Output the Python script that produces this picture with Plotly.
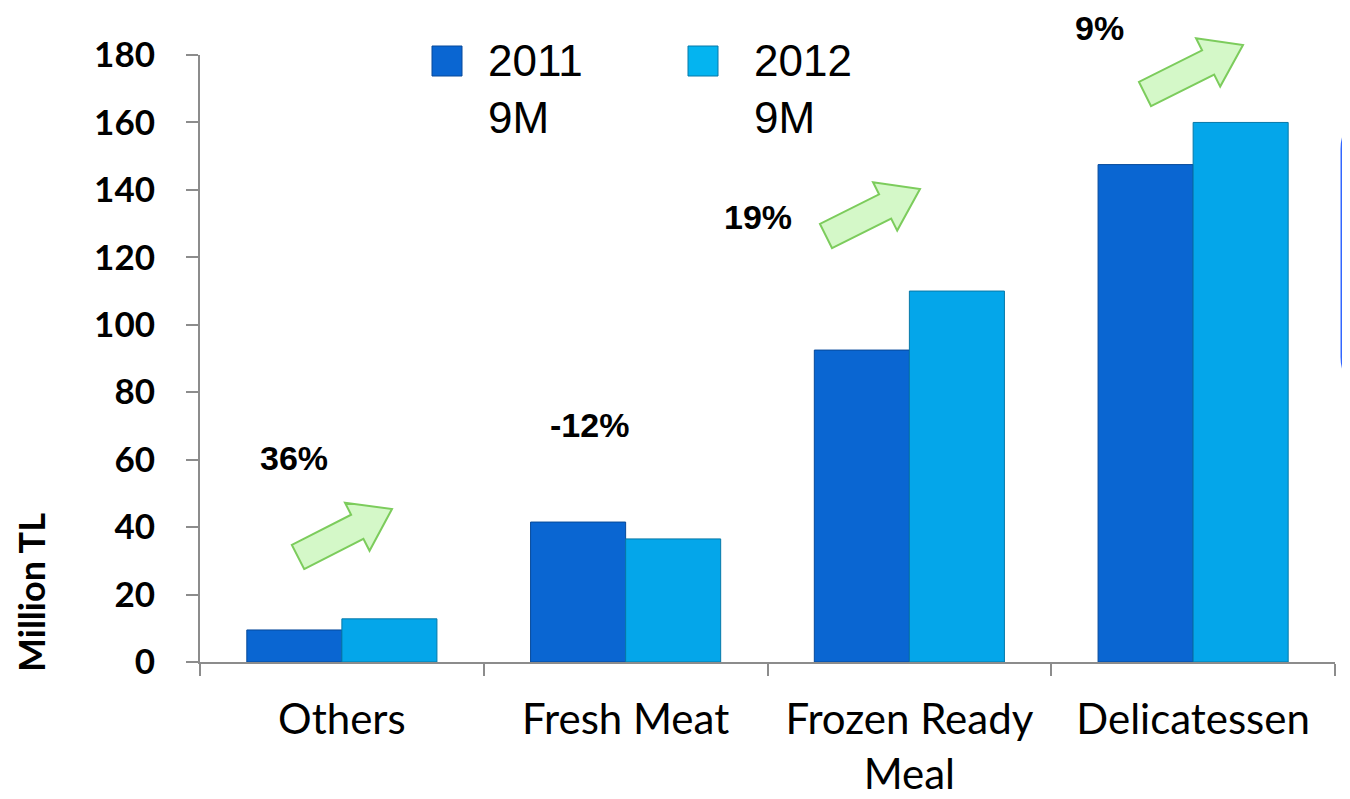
import plotly.graph_objects as go

# data
categories = ["Others", "Fresh Meat", "Frozen Ready<br>Meal", "Delicatessen"]
sales_2011 = [9.5, 41.5, 92.5, 147.5]
sales_2012 = [12.8, 36.5, 110.0, 160.0]
growth_labels = ["36%", "-12%", "19%", "9%"]

OFF = 8  # page body margin
W, H = 1350, 799
ML, MT = 200 - OFF, 55 - OFF
MR = W - (1335 - OFF)
MB = H - (662 - OFF)
PW, PH = W - ML - MR, H - MT - MB


def px(x, y):
    """screen pixel position -> paper coords"""
    return (x - OFF - ML) / PW, (H - MB - (y - OFF)) / PH


def arrow_path(tail, tip, shaft=27, head_w=54, head_l=39):
    dx, dy = tip[0] - tail[0], tip[1] - tail[1]
    n = (dx * dx + dy * dy) ** 0.5
    ux, uy = dx / n, dy / n
    vx, vy = -uy, ux
    bx, by = tip[0] - ux * head_l, tip[1] - uy * head_l
    pts = [
        (tail[0] + vx * shaft / 2, tail[1] + vy * shaft / 2),
        (bx + vx * shaft / 2, by + vy * shaft / 2),
        (bx + vx * head_w / 2, by + vy * head_w / 2),
        tip,
        (bx - vx * head_w / 2, by - vy * head_w / 2),
        (bx - vx * shaft / 2, by - vy * shaft / 2),
        (tail[0] - vx * shaft / 2, tail[1] - vy * shaft / 2),
    ]
    pp = [px(*p) for p in pts]
    return "M " + " L ".join(f"{a:.5f},{b:.5f}" for a, b in pp) + " Z"


fig = go.Figure()

fig.add_trace(go.Bar(
    x=categories, y=sales_2011, name="2011 9M",
    marker=dict(color="#0a66d2", line=dict(color="#06499a", width=1)),
    showlegend=False
))
fig.add_trace(go.Bar(
    x=categories, y=sales_2012, name="2012 9M",
    marker=dict(color="#04a6ea", line=dict(color="#0678a8", width=1)),
    showlegend=False
))

shapes = []
# green growth arrows (screen positions of tail centre / tip)
arrows = [((298, 557), (392, 509)), ((826, 236), (920, 189)), ((1145, 94), (1243, 45))]
for tail, tip in arrows:
    shapes.append(dict(
        type="path", xref="paper", yref="paper", path=arrow_path(tail, tip),
        fillcolor="#d4f8c8", line=dict(color="#7ccc5c", width=2), layer="above"
    ))

# legend squares
for x0, fill, edge in ((432, "#0a66d2", "#06499a"), (688, "#04b4f0", "#0678a8")):
    a, b = px(x0, 46)
    c, d = px(x0 + 30, 76)
    shapes.append(dict(type="rect", xref="paper", yref="paper", x0=a, y0=d, x1=c, y1=b,
                       fillcolor=fill, line=dict(color=edge, width=1)))

# blue rounded box clipped at the right edge
r = 28
pts = [(1370, 121), (1342 + r, 121), (1342, 121 + r), (1342, 385 - r), (1342 + r, 385), (1370, 385)]
p = [px(*q) for q in pts]
corner_t = px(1342, 121)
corner_b = px(1342, 385)
path = (f"M {p[0][0]:.5f},{p[0][1]:.5f} L {p[1][0]:.5f},{p[1][1]:.5f} "
        f"Q {corner_t[0]:.5f},{corner_t[1]:.5f} {p[2][0]:.5f},{p[2][1]:.5f} "
        f"L {p[3][0]:.5f},{p[3][1]:.5f} "
        f"Q {corner_b[0]:.5f},{corner_b[1]:.5f} {p[4][0]:.5f},{p[4][1]:.5f} "
        f"L {p[5][0]:.5f},{p[5][1]:.5f}")
shapes.append(dict(type="path", xref="paper", yref="paper", path=path,
                   line=dict(color="#3366ff", width=3)))

annotations = []
# growth labels, screen centres
label_pos = [(294, 458), (589, 425), (758, 217), (1099, 28)]
for txt, (x, y) in zip(growth_labels, label_pos):
    a, b = px(x, y)
    annotations.append(dict(x=a, y=b, xref="paper", yref="paper", text=f"<b>{txt}</b>",
                            xanchor="center", yanchor="middle", showarrow=False,
                            font=dict(family="Liberation Sans", size=34, color="black")))

# legend text
for txt, x0 in (("2011<br>9M", 486), ("2012<br>9M", 752)):
    a, b = px(x0, 34)
    annotations.append(dict(x=a, y=b, xref="paper", yref="paper", text=txt, align="left",
                            xanchor="left", yanchor="top", showarrow=False,
                            font=dict(family="Liberation Sans", size=44, color="black")))

# y title
a, b = px(31, 592)
annotations.append(dict(x=a, y=b, xref="paper", yref="paper", text="<b>Million TL</b>",
                        textangle=-90, xanchor="center", yanchor="middle", showarrow=False,
                        font=dict(family="Lato", size=36, color="black")))

fig.update_layout(
    width=W, height=H,
    margin=dict(l=ML, r=MR, t=MT, b=MB),
    plot_bgcolor="white", paper_bgcolor="white",
    barmode="group", bargap=0.33, bargroupgap=0,
    shapes=shapes, annotations=annotations,
)
fig.update_xaxes(
    showline=True, linecolor="#8c8c8c", linewidth=2,
    ticks="outside", tickson="boundaries", ticklen=12, tickcolor="#8c8c8c", tickwidth=2,
    tickfont=dict(family="Lato", size=42, color="black"), ticklabelstandoff=20,
    showgrid=False, automargin=False
)
fig.update_yaxes(
    range=[0, 180], dtick=20,
    showline=True, linecolor="#8c8c8c", linewidth=2,
    ticks="outside", ticklen=12, tickcolor="#8c8c8c", tickwidth=2,
    tickfont=dict(family="Lato", size=35, color="black", weight="bold"), ticklabelstandoff=24,
    showgrid=False, zeroline=False, automargin=False
)

fig.write_html("out.html")
